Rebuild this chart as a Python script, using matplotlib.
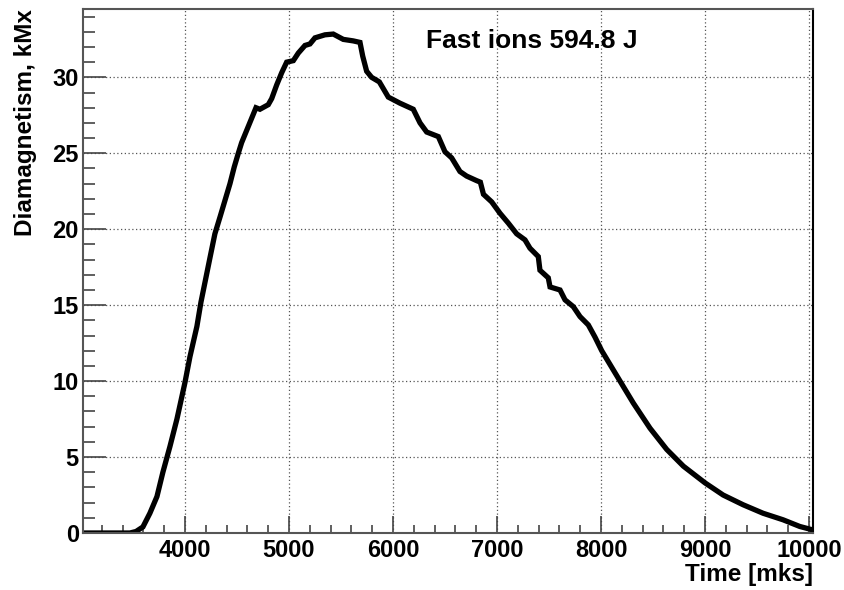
import matplotlib
matplotlib.use('Agg')
import matplotlib.pyplot as plt
from matplotlib.ticker import MultipleLocator

# Data
time_mks = [3020, 3200, 3400, 3471, 3530, 3596, 3663, 3731, 3788, 3856, 3923, 4000,
            4048, 4115, 4154, 4240, 4288, 4337, 4385, 4433, 4474, 4513, 4545, 4593,
            4641, 4683, 4721, 4801, 4834, 4882, 4930, 4978, 5042, 5090, 5154, 5202,
            5250, 5346, 5426, 5522, 5618, 5683, 5709, 5747, 5795, 5869, 5955, 6067,
            6195, 6260, 6324, 6436, 6500, 6564, 6644, 6708, 6804, 6840, 6870, 6949,
            7029, 7109, 7189, 7269, 7317, 7397, 7413, 7493, 7510, 7606, 7654, 7734,
            7798, 7878, 7942, 8007, 8183, 8311, 8471, 8632, 8792, 9000, 9174, 9366,
            9558, 9750, 9911, 10038]
diamag_kmx = [0.0, 0.0, 0.0, 0.0, 0.1, 0.4, 1.3, 2.4, 4.0, 5.7, 7.5, 9.9,
              11.6, 13.6, 15.2, 18.1, 19.7, 20.8, 21.9, 23.0, 24.1, 25.0, 25.7, 26.5,
              27.3, 28.0, 27.9, 28.2, 28.6, 29.5, 30.3, 31.0, 31.1, 31.6, 32.1, 32.2,
              32.6, 32.8, 32.85, 32.5, 32.4, 32.3, 31.4, 30.4, 30.0, 29.7, 28.7, 28.3,
              27.9, 27.0, 26.4, 26.1, 25.1, 24.7, 23.8, 23.5, 23.2, 23.1, 22.3, 21.8,
              21.05, 20.4, 19.7, 19.3, 18.75, 18.2, 17.3, 16.8, 16.2, 16.0, 15.35, 14.9,
              14.25, 13.7, 12.9, 12.0, 10.0, 8.55, 6.9, 5.5, 4.4, 3.3, 2.5, 1.86,
              1.3, 0.87, 0.43, 0.2]
title_text = 'Fast ions 594.8 J'

plt.rcParams['font.family'] = ['Liberation Sans', 'DejaVu Sans']
plt.rcParams['font.weight'] = 'bold'

fig = plt.figure(figsize=(8.45, 5.9), dpi=100)
ax = fig.add_axes([83 / 845, 57 / 590, 730 / 845, 524 / 590])

ax.plot(time_mks, diamag_kmx, color='black', linewidth=3.8, solid_joinstyle='miter')

ax.set_xlim(3020, 10038)
ax.set_ylim(0, 34.5)

# ROOT-like ticks
ax.xaxis.set_major_locator(MultipleLocator(1000))
ax.xaxis.set_minor_locator(MultipleLocator(200))
ax.yaxis.set_major_locator(MultipleLocator(5))
ax.yaxis.set_minor_locator(MultipleLocator(1))
ax.tick_params(axis='x', which='major', direction='in', length=12, width=1.2,
               color='#444444', labelsize=17, pad=4)
ax.tick_params(axis='x', which='minor', direction='in', length=6, width=1.2, color='#444444')
ax.tick_params(axis='y', which='major', direction='in', length=16.5, width=1.2,
               color='#444444', labelsize=17, pad=3)
ax.tick_params(axis='y', which='minor', direction='in', length=8.5, width=1.2, color='#444444')
for lab in ax.get_xticklabels() + ax.get_yticklabels():
    lab.set_fontweight('bold')

for side in ['left', 'bottom', 'top']:
    ax.spines[side].set_color('#555555')
    ax.spines[side].set_linewidth(1.5)
ax.spines['right'].set_color('black')
ax.spines['right'].set_linewidth(1.5)

ax.grid(True, which='major', color='#555555', linestyle=(0, (1, 2)), linewidth=0.9)

ax.text(1.0, -0.08, 'Time [mks]', transform=ax.transAxes, ha='right', va='center',
        fontsize=17.5, fontweight='bold')
ax.text(-0.094, 1.0, 'Diamagnetism, kMx', transform=ax.transAxes, rotation=90,
        ha='left', va='top', fontsize=17.5, fontweight='bold')
ax.text(7330, 32.4, title_text, ha='center', va='center', fontsize=19, fontweight='bold')

plt.savefig('out.png', dpi=100)
